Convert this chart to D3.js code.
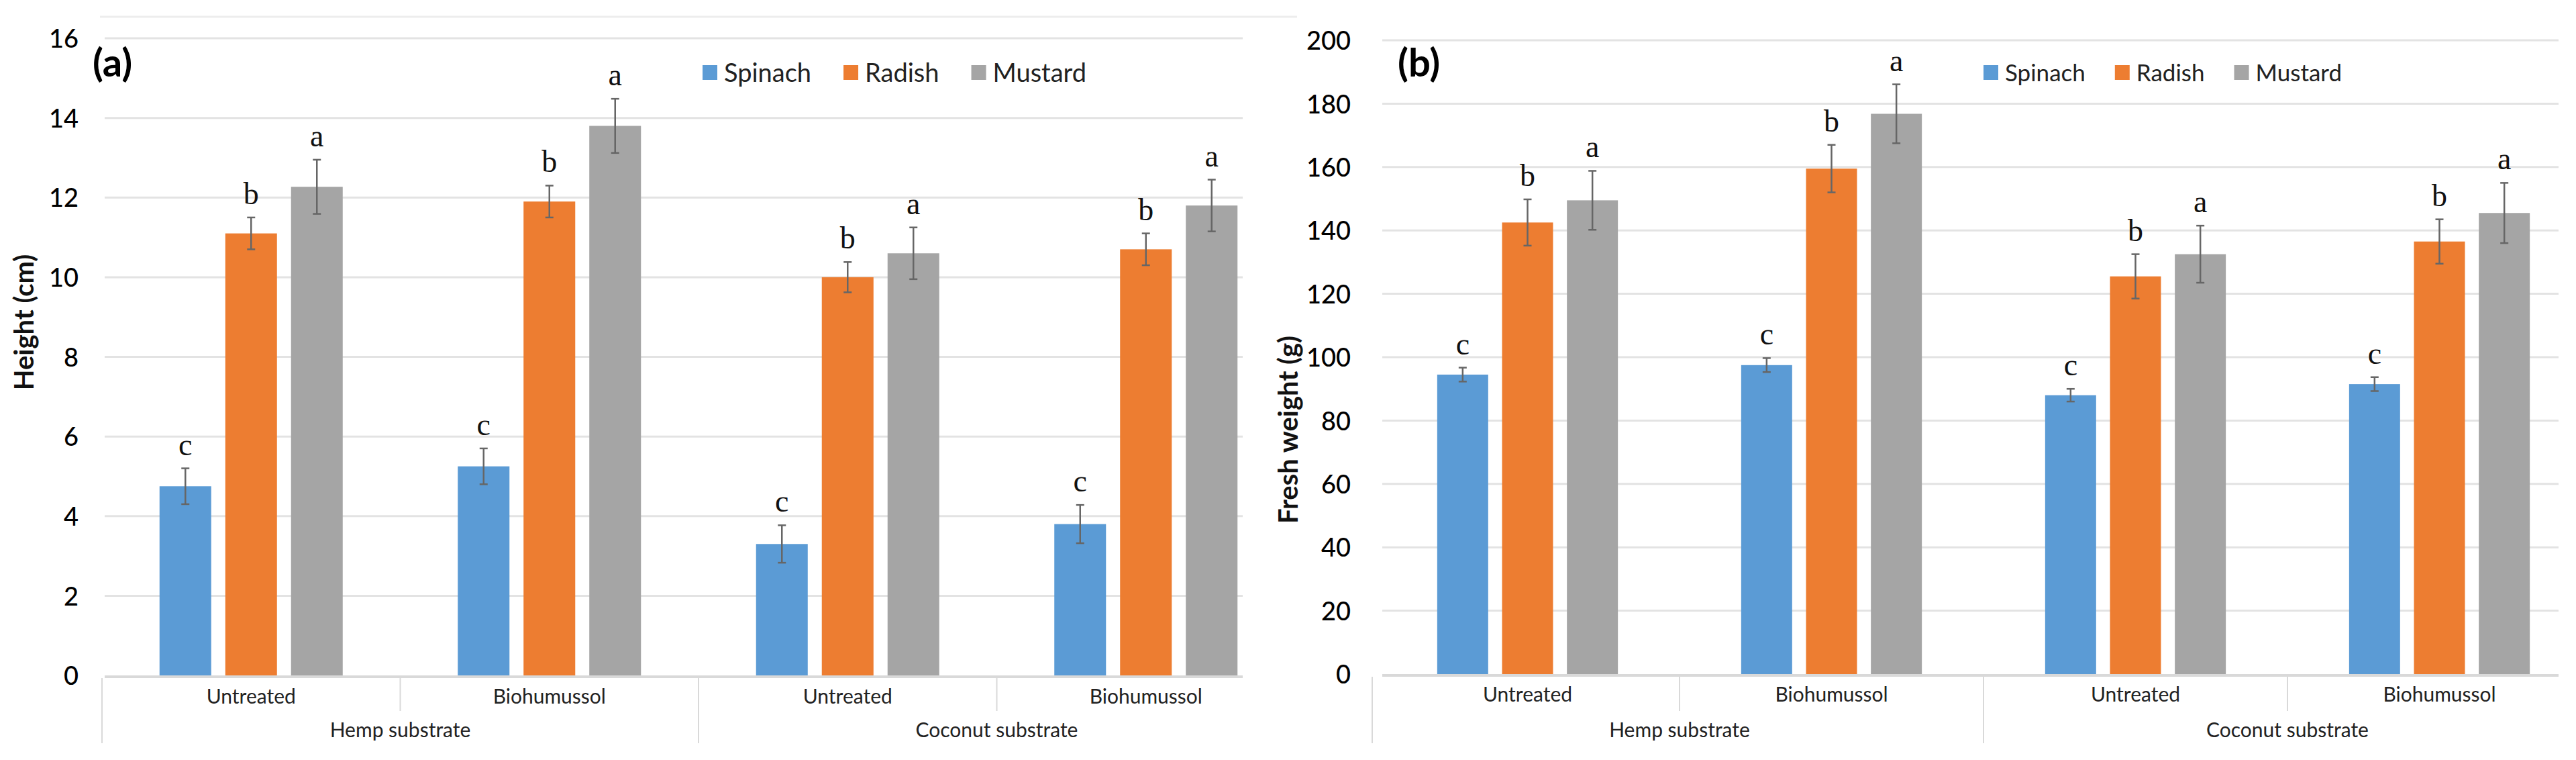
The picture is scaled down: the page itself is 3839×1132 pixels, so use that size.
<!DOCTYPE html>
<html>
<head>
<meta charset="utf-8">
<script src="https://cdn.jsdelivr.net/npm/d3@7"></script>
<style>
  body { margin: 0; background: #fff; }
  svg { display: block; }
</style>
</head>
<body>
<div id="chart"></div>
<script>
// ---- data ----
const treatments = ["Untreated", "Biohumussol", "Untreated", "Biohumussol"];
const substrates = ["Hemp substrate", "Coconut substrate"];
const series = ["Spinach", "Radish", "Mustard"];
const letters = ["c", "b", "a"];

// (a) height, cm
const heightMean = {
  Spinach: [4.75, 5.25, 3.3, 3.8],
  Radish: [11.1, 11.9, 10.0, 10.7],
  Mustard: [12.27, 13.8, 10.6, 11.8],
};
const heightErr = {
  Spinach: [0.45, 0.45, 0.47, 0.48],
  Radish: [0.4, 0.4, 0.38, 0.4],
  Mustard: [0.68, 0.68, 0.65, 0.65],
};
const heightTicks = [0, 2, 4, 6, 8, 10, 12, 14, 16];

// (b) fresh weight, g
const weightMean = {
  Spinach: [94.5, 97.5, 88, 91.5],
  Radish: [142.5, 159.5, 125.5, 136.5],
  Mustard: [149.5, 176.8, 132.5, 145.5],
};
const weightErr = {
  Spinach: [2.2, 2.2, 2.0, 2.2],
  Radish: [7.3, 7.5, 7.0, 7.0],
  Mustard: [9.3, 9.3, 9.0, 9.5],
};
const weightTicks = [0, 20, 40, 60, 80, 100, 120, 140, 160, 180, 200];

const color = d3.scaleOrdinal().domain(series).range(["#5B9BD5", "#ED7D31", "#A5A5A5"]);

const W = 3839, H = 1132;
const svg = d3.select("#chart").append("svg").attr("width", W).attr("height", H);

const sans = "Lato, 'Open Sans', sans-serif";
const serif = "'Liberation Serif', 'DejaVu Serif', serif";

function panel(cfg) {
  const g = svg.append("g");
  const y = d3.scaleLinear().domain([0, cfg.ticks[cfg.ticks.length - 1]]).range([cfg.y0, cfg.y1]);
  const x0 = d3.scaleBand().domain(d3.range(4)).range([cfg.left, cfg.left + 4 * cfg.band]);
  const x1 = d3.scaleBand().domain(series).range([0, x0.bandwidth()]).paddingInner(0.214).paddingOuter(cfg.outer);

  if (cfg.border) {
    g.append("line")
      .attr("x1", cfg.border[0]).attr("x2", cfg.border[1])
      .attr("y1", 25).attr("y2", 25)
      .attr("stroke", "#EDEDED").attr("stroke-width", 3);
  }

  // gridlines
  g.selectAll(".grid")
    .data(cfg.ticks.slice(1))
    .join("line")
    .attr("x1", cfg.gridX0).attr("x2", cfg.gridX1)
    .attr("y1", (d) => y(d)).attr("y2", (d) => y(d))
    .attr("stroke", "#E3E3E3").attr("stroke-width", 3);

  // y tick labels
  const yAxis = g.append("g")
    .attr("transform", `translate(${cfg.tickX},0)`)
    .call(d3.axisLeft(y).tickValues(cfg.ticks).tickSize(0).tickPadding(0));
  yAxis.select(".domain").remove();
  yAxis.selectAll("text")
    .attr("font-family", sans).attr("font-size", 38).attr("font-weight", 500)
    .attr("fill", "#000").attr("dy", "0.36em");

  // y title
  g.append("text")
    .attr("transform", `translate(${cfg.titleX},${cfg.titleY}) rotate(-90)`)
    .attr("text-anchor", "middle").attr("dy", "0.36em")
    .attr("font-family", sans).attr("font-weight", 700).attr("font-size", cfg.titleSize)
    .attr("fill", "#111").text(cfg.title);

  // panel tag
  g.append("text")
    .attr("x", cfg.tagX).attr("y", 93).attr("dy", "0.36em")
    .attr("font-family", sans).attr("font-weight", 700).attr("font-size", 58)
    .attr("fill", "#000").text(cfg.tag);

  // bars
  const groups = g.selectAll(".grp")
    .data(d3.range(4))
    .join("g")
    .attr("transform", (i) => `translate(${x0(i)},0)`);

  groups.selectAll("rect")
    .data((i) => series.map((s) => ({ s, v: cfg.mean[s][i], e: cfg.err[s][i] })))
    .join("rect")
    .attr("x", (d) => x1(d.s))
    .attr("width", x1.bandwidth())
    .attr("y", (d) => y(d.v))
    .attr("height", (d) => y(0) - y(d.v))
    .attr("fill", (d) => color(d.s));

  // zero axis line
  g.append("line")
    .attr("x1", cfg.gridX0).attr("x2", cfg.gridX1)
    .attr("y1", y(0) + 2).attr("y2", y(0) + 2)
    .attr("stroke", "#D9D9D9").attr("stroke-width", 4);

  // error bars
  const eb = groups.selectAll(".eb")
    .data((i) => series.map((s, k) => ({ s, k, v: cfg.mean[s][i], e: cfg.err[s][i] })))
    .join("g")
    .attr("transform", (d) => `translate(${x1(d.s) + x1.bandwidth() / 2},0)`);
  eb.append("line")
    .attr("y1", (d) => y(d.v + d.e)).attr("y2", (d) => y(d.v - d.e))
    .attr("stroke", "#666").attr("stroke-width", 2.5);
  eb.selectAll(".cap")
    .data((d) => [d.v + d.e, d.v - d.e])
    .join("line")
    .attr("x1", -6).attr("x2", 6)
    .attr("y1", (v) => y(v)).attr("y2", (v) => y(v))
    .attr("stroke", "#666").attr("stroke-width", 2.5);
  eb.append("text")
    .attr("y", (d) => y(d.v + d.e) - 20)
    .attr("text-anchor", "middle")
    .attr("font-family", serif).attr("font-size", 46).attr("fill", "#111")
    .text((d) => letters[d.k]);

  // category box
  const yb = y(0) + 4;
  g.append("line")
    .attr("x1", cfg.boxX).attr("x2", cfg.boxX).attr("y1", yb).attr("y2", 1107)
    .attr("stroke", "#D9D9D9").attr("stroke-width", 2);
  [1, 2, 3].forEach((i) => {
    g.append("line")
      .attr("x1", x0(i)).attr("x2", x0(i))
      .attr("y1", yb).attr("y2", i === 2 ? 1107 : 1059)
      .attr("stroke", "#D9D9D9").attr("stroke-width", 2);
  });
  g.selectAll(".tlab")
    .data(treatments)
    .join("text")
    .attr("x", (d, i) => x0(i) + x0.bandwidth() / 2)
    .attr("y", cfg.labY).attr("dy", "0.36em")
    .attr("text-anchor", "middle")
    .attr("font-family", sans).attr("font-size", 30).attr("fill", "#222")
    .text((d) => d);
  g.selectAll(".slab")
    .data(substrates)
    .join("text")
    .attr("x", (d, i) => x0(i * 2 + 1))
    .attr("y", 1087).attr("dy", "0.36em")
    .attr("text-anchor", "middle")
    .attr("font-family", sans).attr("font-size", 30).attr("fill", "#222")
    .text((d) => d);

  // legend
  let lx = cfg.legX;
  series.forEach((s) => {
    g.append("rect")
      .attr("x", lx).attr("y", 97).attr("width", 22).attr("height", 22)
      .attr("fill", color(s));
    const t = g.append("text")
      .attr("x", lx + 32).attr("y", 108).attr("dy", "0.36em")
      .attr("font-family", sans).attr("font-size", cfg.legSize).attr("fill", "#222")
      .text(s);
    lx += 32 + t.node().getComputedTextLength() + cfg.legGap;
  });
}

panel({
  mean: heightMean, err: heightErr, ticks: heightTicks,
  y0: 1006, y1: 57,
  left: 152, band: 444.5, outer: 0.875,
  gridX0: 156, gridX1: 1852, boxX: 152,
  tickX: 117, titleX: 36, titleY: 480, titleSize: 40, title: "Height (cm)",
  tag: "(a)", tagX: 138, labY: 1037,
  legX: 1047, legSize: 38, legGap: 48, border: [149, 1933],
});

panel({
  mean: weightMean, err: weightErr, ticks: weightTicks,
  y0: 1004, y1: 60,
  left: 2050, band: 453, outer: 0.95,
  gridX0: 2060, gridX1: 3813, boxX: 2045,
  tickX: 2013, titleX: 1920, titleY: 640, titleSize: 40, title: "Fresh weight (g)",
  tag: "(b)", tagX: 2083, labY: 1034,
  legX: 2956, legSize: 35, legGap: 44,
});
</script>
</body>
</html>
